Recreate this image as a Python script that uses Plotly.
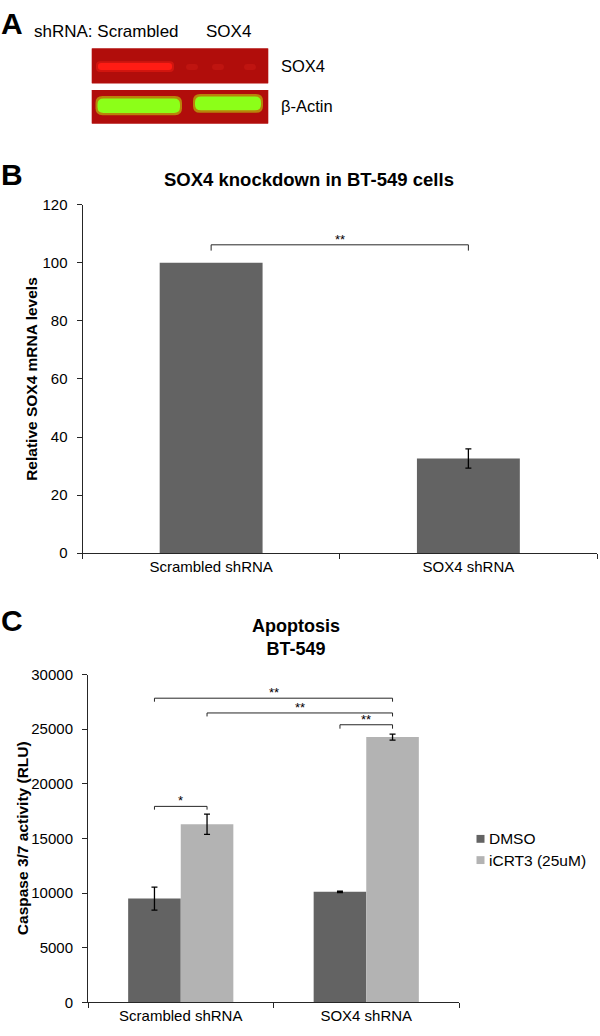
import plotly.graph_objects as go

# ---------------- data ----------------
categories = ["Scrambled shRNA", "SOX4 shRNA"]

# Panel B
b_values = [100, 32.6]
b_errors = [None, 3.3]
b_ticks = [0, 20, 40, 60, 80, 100, 120]

# Panel C
series_names = ["DMSO", "iCRT3 (25uM)"]
c_dmso = [9500, 10120]
c_dmso_err = [1060, 60]
c_icrt = [16300, 24280]
c_icrt_err = [930, 270]
c_ticks = [0, 5000, 10000, 15000, 20000, 25000, 30000]

# significance brackets: (category, series) -> (category, series), level, drop, label
b_brackets = [((0, 0), (1, 0), 106.2, 2.0, "**")]
c_brackets = [
    ((0, 0), (1, 1), 27840, 320, "**"),
    ((0, 1), (1, 1), 26490, 320, "**"),
    ((1, 0), (1, 1), 25410, 360, "**"),
    ((0, 0), (0, 1), 17940, 300, "*"),
]

# ---------------- style ----------------
W, H = 600, 1036
FONT = "Liberation Sans, Arial, sans-serif"
DARK = "#636363"
LIGHT = "#b3b3b3"
LINE = "#262626"
BARGAP_C = 0.433
B_WIDTH = 0.4


def px(x):
    return x / W


def py(y):
    return 1 - y / H


fig = go.Figure()

# Panel B bars
fig.add_trace(go.Bar(
    x=categories, y=b_values, width=[B_WIDTH] * len(categories),
    marker=dict(color=DARK, line=dict(width=0)),
    showlegend=False, xaxis="x", yaxis="y", name="SOX4 mRNA"))
# Panel B error bars (only where measured)
eb_x = [c for c, e in zip(categories, b_errors) if e is not None]
eb_y = [v for v, e in zip(b_values, b_errors) if e is not None]
eb_e = [e for e in b_errors if e is not None]
fig.add_trace(go.Scatter(
    x=eb_x, y=eb_y, mode="markers", marker=dict(size=1, opacity=0),
    error_y=dict(type="data", array=eb_e, color="black", thickness=1.3, width=3),
    showlegend=False, hoverinfo="skip", xaxis="x", yaxis="y"))

# Panel C
for name, vals, errs, col in [(series_names[0], c_dmso, c_dmso_err, DARK),
                              (series_names[1], c_icrt, c_icrt_err, LIGHT)]:
    fig.add_trace(go.Bar(
        x=categories, y=vals, name=name,
        marker=dict(color=col, line=dict(width=0)),
        error_y=dict(type="data", array=errs, color="black", thickness=1.3, width=3),
        showlegend=False, xaxis="x2", yaxis="y2"))

axis_common = dict(showline=True, linecolor=LINE, linewidth=1, ticks="outside",
                   tickcolor=LINE, ticklen=5, showgrid=False, zeroline=False,
                   tickfont=dict(family=FONT, size=15, color="black"))

fig.update_layout(
    width=W, height=H, margin=dict(l=0, r=0, t=0, b=0),
    paper_bgcolor="white", plot_bgcolor="white",
    barmode="group", bargap=BARGAP_C, bargroupgap=0,
    font=dict(family=FONT, color="black"),
    xaxis=dict(domain=[px(82.5), px(597)], anchor="y", type="category",
               tickson="boundaries", **axis_common),
    yaxis=dict(domain=[py(553.3), py(199)], anchor="x", range=[0, 120],
               tickvals=b_ticks, ticklabelstandoff=6, **axis_common),
    xaxis2=dict(domain=[px(88), px(459)], anchor="y2", type="category",
                tickson="boundaries", **axis_common),
    yaxis2=dict(domain=[py(1010), py(676.7)], anchor="x2", range=[0, 30000],
                tickvals=c_ticks, tickformat="d", ticklabelstandoff=6, **axis_common),
)

shapes = []
annotations = []


def bar_center(cat, ser, nser, gap):
    w = (1 - gap) / nser
    return cat - (1 - gap) / 2 + w * (ser + 0.5)


def add_brackets(brs, xref, yref, nser, gap, fsize):
    for (c0, s0), (c1, s1), lvl, drop, lab in brs:
        x0 = bar_center(c0, s0, nser, gap)
        x1 = bar_center(c1, s1, nser, gap)
        shapes.append(dict(type="path", xref=xref, yref=yref,
                           path=f"M {x0},{lvl - drop} L {x0},{lvl} L {x1},{lvl} L {x1},{lvl - drop}",
                           line=dict(color=LINE, width=1)))
        annotations.append(dict(x=(x0 + x1) / 2, y=lvl, xref=xref, yref=yref,
                                text=lab, showarrow=False, yanchor="bottom", yshift=-4,
                                font=dict(family=FONT, size=fsize, color="black")))


add_brackets(b_brackets, "x", "y", 1, 1 - B_WIDTH, 13)
add_brackets(c_brackets, "x2", "y2", 2, BARGAP_C, 13)

# custom legend for panel C
for i, (name, col) in enumerate(zip(series_names, [DARK, LIGHT])):
    yc = 843.7 + i * 21.6
    shapes.append(dict(type="rect", xref="paper", yref="paper",
                       x0=px(476.5), x1=px(484.5), y0=py(yc + 4), y1=py(yc - 4),
                       fillcolor=col, line=dict(width=0)))
    annotations.append(dict(x=px(486.5), y=py(yc), xref="paper", yref="paper",
                            text=name, showarrow=False, xanchor="left", yanchor="middle",
                            font=dict(family=FONT, size=15.5, color="black")))


def ann(text, x, y, size, bold=False, xanchor="center", angle=0):
    annotations.append(dict(x=px(x), y=py(y), xref="paper", yref="paper",
                            text=f"<b>{text}</b>" if bold else text, showarrow=False,
                            xanchor=xanchor, yanchor="middle", textangle=angle,
                            font=dict(family=FONT, size=size, color="black")))


# panel letters and titles
ann("A", 12, 15, 30, bold=True)
ann("B", 12, 168, 30, bold=True)
ann("C", 12, 622, 30, bold=True)
ann("SOX4 knockdown in BT-549 cells", 309, 173, 18.5, bold=True)
ann("Apoptosis<br>BT-549", 296, 639, 18, bold=True)
ann("Relative SOX4 mRNA levels", 32, 376, 15.5, bold=True, angle=-90)
ann("Caspase 3/7 activity (RLU)", 22, 843, 15.5, bold=True, angle=-90)

# panel A: western blot
ann("shRNA: Scrambled", 32, 23, 17, xanchor="left")
ann("SOX4", 204, 23, 17, xanchor="left")
ann("SOX4", 279, 58, 16.5, xanchor="left")
ann("β-Actin", 279, 99, 16.5, xanchor="left")


def rrect(x0, y0, x1, y1, r):
    pts = (f"M {px(x0 + r)},{py(y0)} L {px(x1 - r)},{py(y0)} "
           f"Q {px(x1)},{py(y0)} {px(x1)},{py(y0 + r)} L {px(x1)},{py(y1 - r)} "
           f"Q {px(x1)},{py(y1)} {px(x1 - r)},{py(y1)} L {px(x0 + r)},{py(y1)} "
           f"Q {px(x0)},{py(y1)} {px(x0)},{py(y1 - r)} L {px(x0)},{py(y0 + r)} "
           f"Q {px(x0)},{py(y0)} {px(x0 + r)},{py(y0)} Z")
    return pts


def blot_shape(path, fill):
    shapes.append(dict(type="path", xref="paper", yref="paper", path=path,
                       fillcolor=fill, line=dict(width=0), layer="above"))


# blot backgrounds
blot_shape(rrect(91.7, 40, 268.3, 75.7, 0.5), "#b10d0b")
blot_shape(rrect(91.7, 82.3, 268.3, 116.7, 0.5), "#b10d0b")
# SOX4 band (scrambled lane) with glow
blot_shape(rrect(96, 53, 174, 64, 4), "rgba(235,30,20,0.55)")
blot_shape(rrect(98, 55, 172, 62, 3), "#ff1c14")
# faint spots in SOX4 lane
for cx in [192, 218, 250]:
    blot_shape(rrect(cx - 6, 56, cx + 6, 62, 3), "rgba(200,25,20,0.6)")
# beta-actin bands with glow
blot_shape(rrect(95.5, 88.5, 182, 108, 7), "rgba(190,210,10,0.6)")
blot_shape(rrect(97.5, 91, 180, 105.7, 6), "#8cff18")
blot_shape(rrect(193, 86.5, 263, 105.5, 7), "rgba(190,210,10,0.6)")
blot_shape(rrect(195, 89, 261, 103, 6), "#8cff18")

fig.update_layout(shapes=shapes, annotations=annotations)
fig.write_html("out.html", config={"displayModeBar": False},
               post_script=["document.body.style.margin='0';document.body.style.overflow='hidden';"])
